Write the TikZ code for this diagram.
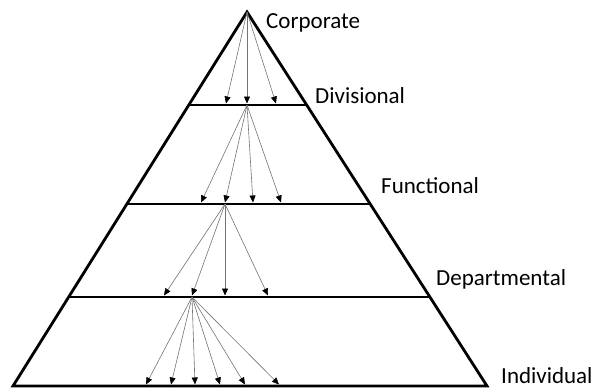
\documentclass[tikz,border=0pt]{standalone}
\usepackage{fontspec}
\setmainfont{Carlito}
\usepackage{tikz}
\usetikzlibrary{arrows.meta,calc}

\begin{document}
\begin{tikzpicture}[
      x=1pt, y=-1pt, font=\fontsize{23}{27}\selectfont,
      edge/.style={line width=2.8pt, line join=miter},
      lvl/.style={anchor=base west, inner sep=0pt},
      arr/.style={-{Triangle[length=7pt, width=6pt, color=black]},
                  draw=black!55, line width=0.6pt},
    ]
      \useasboundingbox (0,0) rectangle (595,388);

      % outline of the pyramid
      \coordinate (apex) at (247, 12);
      \coordinate (bl)   at ( 13,386);
      \coordinate (br)   at (487,386);
      \draw[edge] (bl) -- (apex) -- (br) -- cycle;

      % level separators
      \coordinate (divl) at (189,105);  \coordinate (divr) at (307,105);
      \coordinate (funl) at (127,204);  \coordinate (funr) at (370,204);
      \coordinate (depl) at ( 69,297);  \coordinate (depr) at (430,297);
      \draw[edge] (divl) -- (divr);
      \draw[edge] (funl) -- (funr);
      \draw[edge] (depl) -- (depr);

      % level names
      \node[lvl] (corp) at (266, 28) {Corporate};
      \node[lvl] (divn) at (315,103) {Divisional};
      \node[lvl] (funn) at (381,193) {Functional};
      \node[lvl] (depn) at (436,285) {Departmental};
      \node[lvl] (indn) at (501,383) {Individual};

      % corporate -> divisional
      \coordinate (d1) at (226,103.5);
      \coordinate (d2) at (247,103.5);
      \coordinate (d3) at (276,103.5);
      \draw[arr] (apex) -- (d1);
      \draw[arr] (apex) -- (d2);
      \draw[arr] (apex) -- (d3);

      % divisional -> functional
      \coordinate (dsrc) at (247,105);
      \coordinate (f1) at (201,202.5);
      \coordinate (f2) at (225,202.5);
      \coordinate (f3) at (253,202.5);
      \coordinate (f4) at (281,202.5);
      \draw[arr] (dsrc) -- (f1);
      \draw[arr] (dsrc) -- (f2);
      \draw[arr] (dsrc) -- (f3);
      \draw[arr] (dsrc) -- (f4);

      % functional -> departmental
      \coordinate (fsrc) at (225,204);
      \coordinate (p1) at (164,295.5);
      \coordinate (p2) at (192,295.5);
      \coordinate (p3) at (225,295.5);
      \coordinate (p4) at (268,295.5);
      \draw[arr] (fsrc) -- (p1);
      \draw[arr] (fsrc) -- (p2);
      \draw[arr] (fsrc) -- (p3);
      \draw[arr] (fsrc) -- (p4);

      % departmental -> individual
      \coordinate (psrc) at (192,297);
      \coordinate (i1) at (146,384.5);
      \coordinate (i2) at (171,384.5);
      \coordinate (i3) at (195,384.5);
      \coordinate (i4) at (220,384.5);
      \coordinate (i5) at (245,384.5);
      \coordinate (i6) at (279,384.5);
      \draw[arr] (psrc) -- (i1);
      \draw[arr] (psrc) -- (i2);
      \draw[arr] (psrc) -- (i3);
      \draw[arr] (psrc) -- (i4);
      \draw[arr] (psrc) -- (i5);
      \draw[arr] (psrc) -- (i6);
    \end{tikzpicture}
\end{document}
